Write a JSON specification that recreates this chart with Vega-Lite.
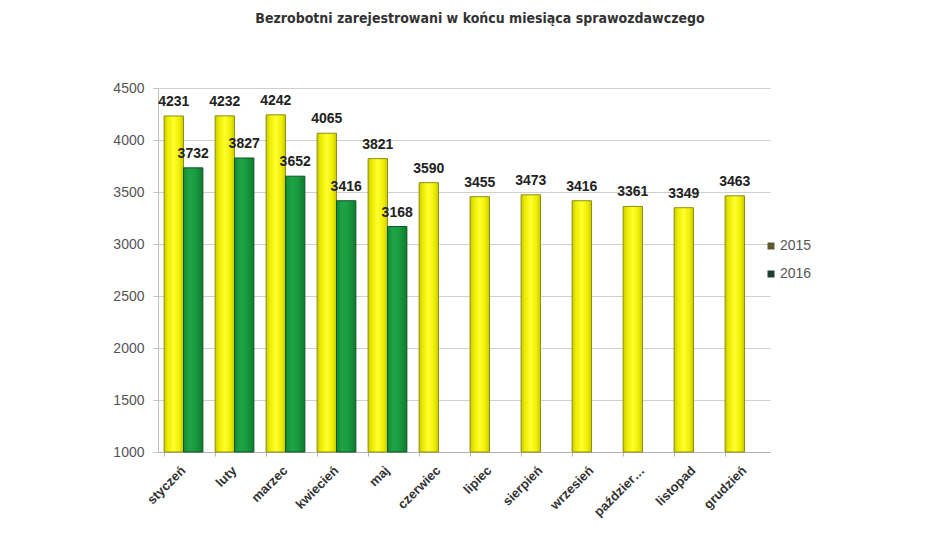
{
  "$schema": "https://vega.github.io/schema/vega-lite/v6.json",
  "autosize": "none",
  "width": 612,
  "height": 364,
  "padding": {"left": 158, "top": 88, "right": 180, "bottom": 88},
  "background": "white",
  "title": {
    "text": "Bezrobotni zarejestrowani w końcu miesiąca sprawozdawczego",
    "anchor": "middle",
    "frame": "group",
    "dx": 16,
    "offset": 55,
    "font": "Liberation Sans Narrow, DejaVu Sans Condensed, sans-serif",
    "fontSize": 14,
    "fontWeight": "bold",
    "color": "#333333"
  },
  "data": {
    "values": [
      {"month": "styczeń", "year": "2015", "value": 4231},
      {"month": "styczeń", "year": "2016", "value": 3732},
      {"month": "luty", "year": "2015", "value": 4232},
      {"month": "luty", "year": "2016", "value": 3827},
      {"month": "marzec", "year": "2015", "value": 4242},
      {"month": "marzec", "year": "2016", "value": 3652},
      {"month": "kwiecień", "year": "2015", "value": 4065},
      {"month": "kwiecień", "year": "2016", "value": 3416},
      {"month": "maj", "year": "2015", "value": 3821},
      {"month": "maj", "year": "2016", "value": 3168},
      {"month": "czerwiec", "year": "2015", "value": 3590},
      {"month": "lipiec", "year": "2015", "value": 3455},
      {"month": "sierpień", "year": "2015", "value": 3473},
      {"month": "wrzesień", "year": "2015", "value": 3416},
      {"month": "październik", "year": "2015", "value": 3361},
      {"month": "listopad", "year": "2015", "value": 3349},
      {"month": "grudzień", "year": "2015", "value": 3463}
    ]
  },
  "encoding": {
    "x": {
      "field": "month",
      "type": "nominal",
      "sort": null,
      "scale": {"paddingInner": 0.24, "paddingOuter": 0.12},
      "axis": {
        "title": null,
        "labelAngle": -45,
        "labelAlign": "right",
        "labelBaseline": "middle",
        "labelPadding": 12,
        "labelFont": "Liberation Sans",
        "labelFontSize": 13,
        "labelFontWeight": "bold",
        "labelColor": "#333333",
        "labelExpr": "datum.label == 'październik' ? 'paździer…' : datum.label",
        "bandPosition": 0,
        "tickSize": 4,
        "tickColor": "#b0b0b0",
        "domainColor": "#b0b0b0",
        "grid": false
      }
    },
    "xOffset": {
      "field": "year",
      "type": "nominal",
      "scale": {"domain": ["2015", "2016"], "paddingInner": 0, "paddingOuter": 0}
    },
    "y": {
      "field": "value",
      "type": "quantitative",
      "scale": {"domain": [1000, 4500], "zero": false, "nice": false},
      "axis": {
        "title": null,
        "format": "d",
        "values": [1000, 1500, 2000, 2500, 3000, 3500, 4000, 4500],
        "labelFont": "Liberation Sans",
        "labelFontSize": 14,
        "labelColor": "#555555",
        "labelPadding": 9,
        "tickSize": 5,
        "tickColor": "#c0c0c0",
        "domainColor": "#c0c0c0",
        "gridColor": "#cfcfcf",
        "grid": true
      }
    }
  },
  "layer": [
    {
      "mark": {"type": "bar", "strokeWidth": 1},
      "encoding": {
        "y2": {"datum": 1000},
        "fill": {
          "condition": {
            "test": "datum.year == '2015'",
            "value": {
              "gradient": "linear", "x1": 0, "x2": 1, "y1": 0, "y2": 0,
              "stops": [
                {"offset": 0, "color": "#c9c900"},
                {"offset": 0.2, "color": "#eded00"},
                {"offset": 0.5, "color": "#ffff30"},
                {"offset": 0.8, "color": "#eded00"},
                {"offset": 1, "color": "#c9c900"}
              ]
            }
          },
          "value": {
            "gradient": "linear", "x1": 0, "x2": 1, "y1": 0, "y2": 0,
            "stops": [
              {"offset": 0, "color": "#138a35"},
              {"offset": 0.3, "color": "#1da444"},
              {"offset": 0.6, "color": "#1a9c40"},
              {"offset": 1, "color": "#0f7a2e"}
            ]
          }
        },
        "stroke": {
          "condition": {"test": "datum.year == '2015'", "value": "#8f8f10"},
          "value": "#0b5526"
        }
      }
    },
    {
      "mark": {
        "type": "point",
        "shape": "square",
        "filled": true,
        "opacity": 0
      },
      "encoding": {
        "color": {
          "field": "year",
          "type": "nominal",
          "scale": {"domain": ["2015", "2016"], "range": ["#5c5a2e", "#1d3f2e"]},
          "legend": {
            "title": null,
            "orient": "none",
            "legendX": 606,
            "legendY": 151,
            "symbolType": "square",
            "symbolSize": 49,
            "symbolOpacity": 1,
            "symbolStrokeWidth": 0,
            "labelFont": "Liberation Sans",
            "labelFontSize": 14,
            "labelColor": "#555555",
            "labelOffset": 2,
            "rowPadding": 14
          }
        }
      }
    },
    {
      "mark": {
        "type": "text",
        "baseline": "alphabetic",
        "dy": -10,
        "font": "Liberation Sans",
        "fontSize": 14,
        "fontWeight": "bold",
        "color": "#222222"
      },
      "encoding": {
        "text": {"field": "value", "type": "quantitative", "format": "d"}
      }
    }
  ],
  "config": {
    "view": {"stroke": null}
  }
}
